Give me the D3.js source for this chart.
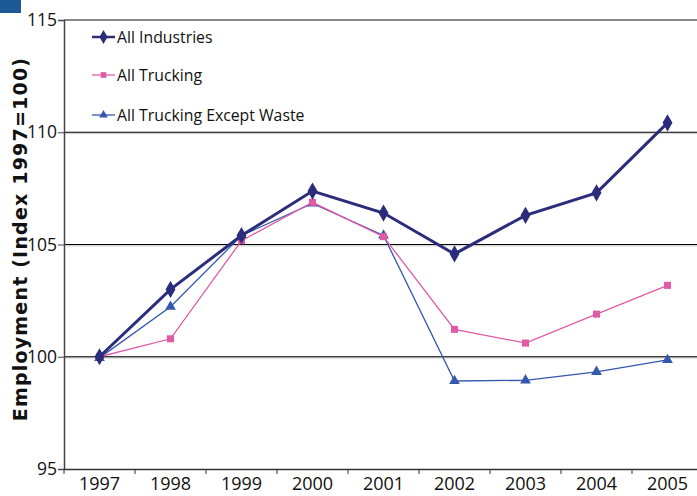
<!DOCTYPE html>
<html><head><meta charset="utf-8">
<script src="https://cdn.jsdelivr.net/npm/d3@7"></script>
<style>body{margin:0;background:#fff}svg{display:block}</style>
</head><body>
<script>
const years = ["1997","1998","1999","2000","2001","2002","2003","2004","2005"];
const allIndustries = [100.0, 103.0, 105.4, 107.38, 106.4, 104.58, 106.3, 107.3, 110.42];
const allTrucking = [100.0, 100.8, 105.17, 106.88, 105.35, 101.22, 100.61, 101.9, 103.18];
const truckingExceptWaste = [99.95, 102.23, 105.4, 106.83, 105.4, 98.92, 98.95, 99.33, 99.86];
const yTicks = [95, 100, 105, 110, 115];
const seriesNames = ["All Industries", "All Trucking", "All Trucking Except Waste"];

const W = 697, H = 496;
const svg = d3.select("body").append("svg").attr("width", W).attr("height", H);
const font = "'Open Sans', sans-serif";

const x = d3.scaleBand().domain(years).range([64, 703]);
const y = d3.scaleLinear().domain([95, 115]).range([469, 20]);

svg.append("rect").attr("x",0).attr("y",0).attr("width",21).attr("height",13).attr("fill","#1b5a96");

svg.append("text").attr("transform",`translate(20,239) rotate(-90)`)
  .attr("text-anchor","middle").attr("dy","0.36em").attr("font-family","'DejaVu Sans', sans-serif").attr("font-weight","bold")
  .attr("font-size",19).attr("letter-spacing",1.2).attr("fill","#111")
  .text("Employment (Index 1997=100)");

// gridlines
svg.append("g").selectAll("line").data([100,105,110]).join("line")
  .attr("x1",64).attr("x2",W).attr("y1",d=>y(d)+1).attr("y2",d=>y(d)+1)
  .attr("stroke","#d8d8d8").attr("stroke-width",2);
svg.append("g").selectAll("line").data([100,105,110]).join("line")
  .attr("x1",64).attr("x2",W).attr("y1",d=>y(d)).attr("y2",d=>y(d))
  .attr("stroke","#000").attr("stroke-width",1);
svg.append("line").attr("x1",64).attr("x2",W).attr("y1",y(115)).attr("y2",y(115))
  .attr("stroke","#888").attr("stroke-width",2);

// axes
const yAxis = svg.append("g").attr("transform","translate(64,0)")
  .call(d3.axisLeft(y).tickValues(yTicks).tickSize(6).tickPadding(1).tickFormat(d3.format("d")));
yAxis.select(".domain").attr("stroke","#444").attr("stroke-width",1.5);
yAxis.selectAll(".tick line").attr("stroke","#444");
yAxis.selectAll("text").attr("font-family",font).attr("font-size",17.5).attr("fill","#111");

const xAxis = svg.append("g").attr("transform",`translate(0,${y(95)})`)
  .call(d3.axisBottom(x).tickSize(0).tickPadding(8));
xAxis.select(".domain").attr("stroke","#333").attr("stroke-width",1.5);
xAxis.selectAll("text").attr("font-family",font).attr("font-size",18).attr("fill","#111");
svg.append("g").selectAll("line").data(years).join("line")
  .attr("x1",d=>x(d)).attr("x2",d=>x(d)).attr("y1",y(95)).attr("y2",y(95)+5)
  .attr("stroke","#333");

const cx = d => x(d) + x.bandwidth()/2;
const series = [
  {name: seriesNames[0], data: allIndustries, color:"#2b2d7c", width:3, sym:d3.symbolDiamond, size:85},
  {name: seriesNames[1], data: allTrucking, color:"#e05aa6", width:1.3, sym:d3.symbolSquare, size:50},
  {name: seriesNames[2], data: truckingExceptWaste, color:"#3557ad", width:1.3, sym:d3.symbolTriangle, size:50}
];
const line = d3.line().x((d,i)=>cx(years[i])).y(d=>y(d));
[series[2], series[1], series[0]].forEach(s=>{
  svg.append("path").datum(s.data).attr("d",line).attr("fill","none")
    .attr("stroke",s.color).attr("stroke-width",s.width);
  svg.append("g").selectAll("path").data(s.data).join("path")
    .attr("transform",(d,i)=>`translate(${cx(years[i])},${y(d)})`)
    .attr("d",d3.symbol().type(s.sym).size(s.size)).attr("fill",s.color);
});

// legend
const legY = [37, 75, 115];
series.forEach((s,i)=>{
  const g = svg.append("g").attr("transform",`translate(92,${legY[i]})`);
  g.append("line").attr("x1",0).attr("x2",23).attr("stroke",s.color).attr("stroke-width",s.width===3?2.5:1.3);
  g.append("path").attr("transform","translate(11.5,0)").attr("d",d3.symbol().type(s.sym).size(s.size*0.65)).attr("fill",s.color);
  g.append("text").attr("x",25).attr("dy","0.35em").attr("font-family",font).attr("font-size",15.8)
    .attr("fill","#111").text(s.name);
});
</script>
</body></html>
